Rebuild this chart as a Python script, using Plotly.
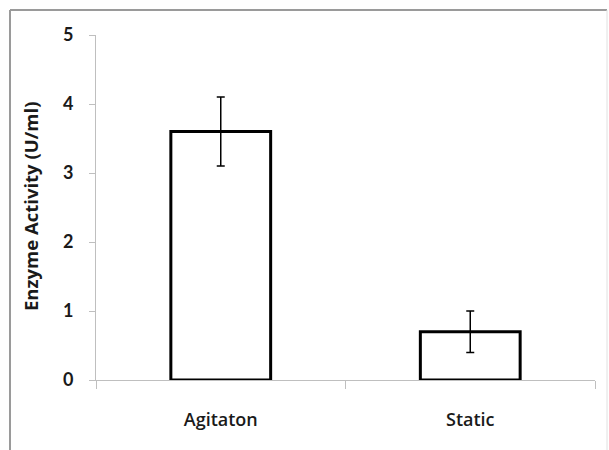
import plotly.graph_objects as go

# Enzyme activity under two culture conditions
conditions = ["Agitaton", "Static"]
activity = [3.6, 0.7]
activity_err = [0.5, 0.3]
y_ticks = [0, 1, 2, 3, 4, 5]

W, H = 609, 450
L, R, T, B = 96, 14, 35, 70
pw, ph = W - L - R, H - T - B

def px_x(x):
    return (x - L) / pw

def px_y(y):
    return (H - B - y) / ph

fig = go.Figure()
fig.add_trace(go.Bar(
    x=conditions,
    y=activity,
    marker=dict(color="white", line=dict(color="black", width=3)),
    error_y=dict(type="data", array=activity_err, visible=True,
                 color="black", thickness=1.5, width=4),
    width=0.4,
))

font_family = "Lato, Open Sans, sans-serif"

fig.update_layout(
    width=W, height=H,
    margin=dict(l=L, r=R, t=T, b=B),
    paper_bgcolor="white", plot_bgcolor="white",
    showlegend=False,
    font=dict(family=font_family, color="#1a1a1a"),
    xaxis=dict(
        range=[-0.5, 1.5],
        showline=True, linecolor="#bfbfbf", linewidth=1,
        ticks="outside", tickson="boundaries", ticklen=8,
        tickcolor="#bfbfbf", tickwidth=1,
        tickfont=dict(size=18, family="Open Sans, sans-serif", color="#1a1a1a", weight=600),
        showgrid=False, zeroline=False,
        ticklabelstandoff=23,
    ),
    yaxis=dict(
        range=[0, 5],
        tickvals=y_ticks,
        showline=True, linecolor="#bfbfbf", linewidth=1,
        ticks="outside", ticklen=6, tickcolor="#bfbfbf", tickwidth=1,
        tickfont=dict(size=18, family=font_family, color="#1a1a1a", weight="bold"),
        showgrid=False, zeroline=False,
        ticklabelstandoff=12,
    ),
    annotations=[dict(
        text="<b>Enzyme Activity (U/ml)</b>",
        xref="paper", yref="paper",
        x=px_x(30), y=px_y(207),
        xanchor="center", yanchor="middle",
        textangle=-90, showarrow=False,
        font=dict(size=18.5, family="Open Sans, sans-serif", color="#1a1a1a"),
    )],
    shapes=[
        # chart frame
        dict(type="line", xref="paper", yref="paper",
             x0=px_x(10), x1=px_x(10), y0=px_y(10), y1=px_y(460),
             line=dict(color="#9a9a9a", width=2)),
        dict(type="line", xref="paper", yref="paper",
             x0=px_x(10), x1=px_x(607), y0=px_y(10), y1=px_y(10),
             line=dict(color="#9a9a9a", width=2)),
        dict(type="line", xref="paper", yref="paper",
             x0=px_x(607), x1=px_x(607), y0=px_y(10), y1=px_y(460),
             line=dict(color="#e0e0e0", width=1)),
    ],
)

fig.write_html("out.html")
